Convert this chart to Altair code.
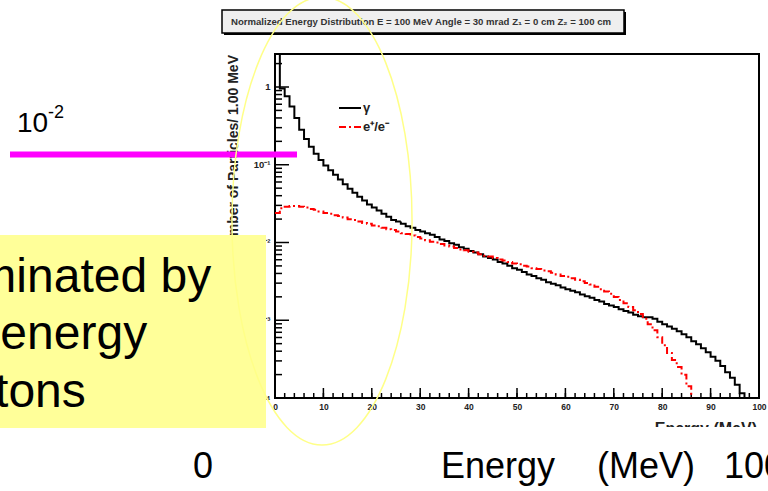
import altair as alt
import pandas as pd

FONT = "Liberation Sans, Arial, Helvetica, sans-serif"

# ---------------- data (log10 of counts per 1 MeV bin) -------------
gamma_bins = list(range(0, 97))           # lower edge of each 1 MeV bin, photons
gamma_log10 = [0.6, -0.02, -0.12, -0.25, -0.40, -0.55, -0.67, -0.77, -0.86, -0.94,
               -1.01, -1.07, -1.13, -1.19, -1.25, -1.31, -1.36, -1.41, -1.46, -1.51,
               -1.55, -1.59, -1.63, -1.67, -1.71, -1.73, -1.76, -1.79, -1.81, -1.84,
               -1.86, -1.88, -1.90, -1.93, -1.96, -1.98, -2.01, -2.03, -2.06, -2.08,
               -2.11, -2.13, -2.15, -2.18, -2.20, -2.22, -2.25, -2.27, -2.30, -2.33,
               -2.35, -2.38, -2.41, -2.43, -2.46, -2.48, -2.51, -2.53, -2.55, -2.58,
               -2.60, -2.62, -2.64, -2.67, -2.69, -2.71, -2.74, -2.76, -2.79, -2.81,
               -2.83, -2.86, -2.88, -2.90, -2.93, -2.95, -2.96, -2.96, -2.98, -3.02,
               -3.05, -3.08, -3.11, -3.14, -3.18, -3.22, -3.27, -3.31, -3.36, -3.41,
               -3.47, -3.52, -3.59, -3.67, -3.74, -3.83, -3.94]
ee_bins = list(range(0, 86))              # e+/e-
ee_log10 = [-1.62, -1.56, -1.54, -1.53, -1.53, -1.54, -1.55, -1.57, -1.58, -1.60,
            -1.62, -1.63, -1.65, -1.66, -1.68, -1.70, -1.71, -1.73, -1.75, -1.76,
            -1.78, -1.79, -1.81, -1.83, -1.84, -1.86, -1.88, -1.89, -1.91, -1.93,
            -1.95, -1.97, -1.99, -2.00, -2.02, -2.04, -2.05, -2.07, -2.09, -2.10,
            -2.12, -2.13, -2.15, -2.17, -2.18, -2.20, -2.22, -2.23, -2.25, -2.27,
            -2.28, -2.30, -2.31, -2.33, -2.34, -2.36, -2.37, -2.39, -2.41, -2.43,
            -2.44, -2.46, -2.48, -2.50, -2.52, -2.54, -2.57, -2.60, -2.63, -2.66,
            -2.70, -2.74, -2.78, -2.83, -2.87, -2.92, -2.98, -3.05, -3.13, -3.22,
            -3.32, -3.42, -3.51, -3.60, -3.70, -3.85]
series_names = ["γ", "e⁺/e⁻"]
series_colors = ["black", "red"]

x_tick_labels = [0, 10, 20, 30, 40, 50, 60, 70, 80, 90, 100]
x_minor_ticks = list(range(0, 101, 2))
y_major_ticks = [1e-4, 1e-3, 1e-2, 1e-1, 1]
y_minor_ticks = [m * d for d in [1e-4, 1e-3, 1e-2, 1e-1, 1] for m in range(2, 10) if m * d < 2.6]

Y_MIN, Y_MAX = 1e-4, 2.657

title_text = "Normalized Energy Distribution E = 100 MeV  Angle = 30 mrad  Z₁ =   0 cm Z₂ = 100 cm"
ytitle_text = "Number of Particles/ 1.00 MeV"

rows = []
for name, bins, logs in [(series_names[0], gamma_bins, gamma_log10), (series_names[1], ee_bins, ee_log10)]:
    for i, (b, l) in enumerate(zip(bins, logs)):
        rows.append({"series": name, "E": b, "val": 10 ** l, "i": i})
    rows.append({"series": name, "E": bins[-1] + 1, "val": Y_MIN, "i": len(bins)})
hist = pd.DataFrame(rows)

# ---------------- layout -------------
X0, Y0 = 275, 54
W, H = 484, 344


def px(X):
    return X - X0


def py(Y):
    return Y - Y0


one = pd.DataFrame({"k": [0]})

xscale = alt.Scale(domain=[0, 100], nice=False, zero=False)
yscale = alt.Scale(type="log", domain=[Y_MIN, Y_MAX], nice=False)
xaxis = alt.Axis(values=x_tick_labels, ticks=False, domain=False, grid=False, title=None,
                 labelFont=FONT, labelFontSize=8.5, labelFontWeight="bold", labelColor="#222",
                 labelPadding=4, labelFlush=False)
yaxis = alt.Axis(values=y_major_ticks, ticks=False, domain=False, grid=False, title=None,
                 labelFont=FONT, labelFontSize=9.5, labelFontWeight="bold", labelColor="#222",
                 labelPadding=5,
                 labelExpr="datum.value > 0.5 ? '1' : datum.value > 0.05 ? '10⁻¹' : datum.value > 0.005 ? '10⁻²' : datum.value > 0.0005 ? '10⁻³' : '10⁻⁴'")


def xenc(field):
    return alt.X(field, type="quantitative", scale=xscale, axis=xaxis)


def yenc(field):
    return alt.Y(field, type="quantitative", scale=yscale, axis=yaxis)


def text_layer(txt, X, Y, size, align="left", baseline="alphabetic", weight="normal",
               color="black", angle=0):
    return alt.Chart(one).mark_text(text=txt, align=align, baseline=baseline, fontSize=size,
                                    fontWeight=weight, color=color, angle=angle, font=FONT).encode(
        x=alt.value(px(X)), y=alt.value(py(Y)))


def rect_layer(X1, Y1, X2, Y2, fill, stroke=None, sw=0):
    kw = dict(fill=fill)
    if stroke:
        kw.update(stroke=stroke, strokeWidth=sw)
    return alt.Chart(one).mark_rect(**kw).encode(
        x=alt.value(px(X1)), x2=alt.value(px(X2)), y=alt.value(py(Y1)), y2=alt.value(py(Y2)))


# ticks (pointing inward, ROOT style)
xt_minor = alt.Chart(pd.DataFrame({"v": x_minor_ticks})).mark_rule(color="black", strokeWidth=1.5).encode(
    x=xenc("v"), y=alt.value(H), y2=alt.value(H - 5))
xt_major = alt.Chart(pd.DataFrame({"v": x_tick_labels})).mark_rule(color="black", strokeWidth=1.5).encode(
    x=xenc("v"), y=alt.value(H), y2=alt.value(H - 10))
yt_minor = alt.Chart(pd.DataFrame({"v": y_minor_ticks})).mark_rule(color="black", strokeWidth=1.5).encode(
    y=yenc("v"), x=alt.value(0), x2=alt.value(7))
yt_major = alt.Chart(pd.DataFrame({"v": y_major_ticks})).mark_rule(color="black", strokeWidth=1.5).encode(
    y=yenc("v"), x=alt.value(0), x2=alt.value(14))

leg = alt.Legend(orient="none", legendX=63, legendY=42, title=None, symbolType="stroke",
                 symbolSize=484, symbolStrokeWidth=2, labelFontSize=13, labelFont=FONT,
                 labelFontWeight="bold", labelColor="#222", rowPadding=0, padding=0, labelOffset=1)

lines = alt.Chart(hist).mark_line(interpolate="step-after", clip=True, strokeWidth=2).encode(
    x=xenc("E"), y=yenc("val"),
    color=alt.Color("series:N", scale=alt.Scale(domain=series_names, range=series_colors), legend=leg),
    strokeDash=alt.StrokeDash("series:N", scale=alt.Scale(domain=series_names, range=[[1, 0], [7, 3, 2, 3]]),
                              legend=leg),
    order=alt.Order("i:Q"),
)

# title box
tshadow = rect_layer(224, 12, 626, 35, "black")
tbox = rect_layer(222, 10, 624, 33, "#efefef", "black", 1.5)
ttext = text_layer(title_text, 421, 21.5, 9.6, align="center", baseline="middle", weight="bold", color="#333")

ytitle = text_layer(ytitle_text, 234, 55, 14, align="right", baseline="middle", weight="bold",
                    color="#222", angle=270)
xtitle = text_layer("Energy (MeV)", 757, 433.5, 16, align="right", weight="bold", color="#222")
white_bottom = rect_layer(266, 427, 768, 491, "white")

magenta = rect_layer(10, 151.5, 297, 157.5, "#ff00ff")
t10 = text_layer("10", 17, 132, 28)
t10e = text_layer("-2", 48, 118, 18)

ybox = rect_layer(0, 235, 266, 428, "#ffff99")
l1 = text_layer("Dominated by", -85, 292, 48)
l2 = text_layer("low energy", -85, 349, 48)
l3 = text_layer("photons", -85, 407, 48)

a, k = 0.402, 0.5523
ell_path = (f"M0,-1 C{k*a:.4f},-1 {a},{-k:.4f} {a},0 C{a},{k:.4f} {k*a:.4f},1 0,1 "
            f"C{-k*a:.4f},1 {-a},{k:.4f} {-a},0 C{-a},{-k:.4f} {-k*a:.4f},-1 0,-1 Z")
ellipse = alt.Chart(one).mark_point(shape=ell_path, size=448 ** 2, filled=False, color="#ffff88",
                                    strokeWidth=1.5, opacity=1).encode(
    x=alt.value(px(322)), y=alt.value(py(221)))

b0 = text_layer("0", 203, 478, 36, align="center")
b1 = text_layer("Energy", 441, 478, 36)
b2 = text_layer("(MeV)", 597, 478, 36)
b3 = text_layer("100", 724, 478, 36)

chart = alt.layer(
    xt_minor, xt_major, yt_minor, yt_major, lines,
    tshadow, tbox, ttext, ytitle, xtitle, white_bottom,
    magenta, t10, t10e, ybox, l1, l2, l3, ellipse, b0, b1, b2, b3,
).properties(
    width=W, height=H,
    autosize=alt.AutoSizeParams(type="none"),
    padding={"left": X0, "top": Y0, "right": 768 - X0 - W, "bottom": 491 - Y0 - H},
    background="white",
).configure_view(stroke="black", strokeWidth=2)

chart.save("out.html", embed_options={"renderer": "svg", "actions": False})
